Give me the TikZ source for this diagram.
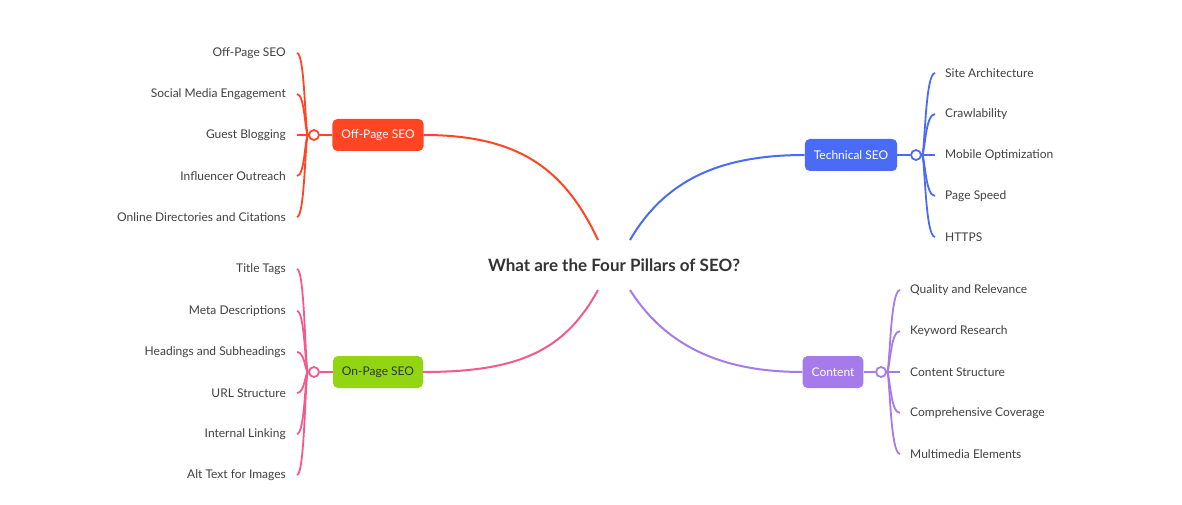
\documentclass[tikz,border=0pt]{standalone}
\usepackage{fontspec}
\setmainfont{Lato}
\definecolor{offc}{HTML}{FF4522}
\definecolor{techc}{HTML}{4A6BF5}
\definecolor{onc}{HTML}{F25A8E}
\definecolor{onbox}{HTML}{92D613}
\definecolor{conc}{HTML}{A57BEB}
\begin{document}
\begin{tikzpicture}[x=1pt,y=-1pt,
    topic/.style={rounded corners=5pt,minimum height=32pt,inner xsep=9pt,text=white,font=\fontsize{12}{14}\selectfont},
    knob/.style={circle,draw,fill=white,line width=1.8pt,minimum size=10pt,inner sep=0pt},
    leafL/.style={anchor=east,inner xsep=11pt,inner ysep=0pt,text=black!75,font=\fontsize{12}{14}\selectfont},
    leafR/.style={anchor=west,inner xsep=10pt,inner ysep=0pt,text=black!75,font=\fontsize{12}{14}\selectfont}]
    \useasboundingbox (0,0) rectangle (1182,505);
    % Centre
    \node (title) at (614,265) {\fontsize{17}{20}\selectfont\bfseries\color{black!80}What are the Four Pillars of SEO?};
    \coordinate (tl) at (598,240);
    \coordinate (tr) at (630,240);
    \coordinate (bl) at (598,290);
    \coordinate (br) at (630,290);
    % Topics
    \node (off) at (378,135) [topic,fill=offc] {Off-Page SEO};
    \node (tech) at (851,155) [topic,fill=techc] {Technical SEO};
    \node (on) at (378,372) [topic,fill=onbox,text=black!80] {On-Page SEO};
    \node (con) at (833,372) [topic,fill=conc] {Content};
    \node (offk) at (314,135) [knob,draw=offc] {};
    \node (techk) at (916,155) [knob,draw=techc] {};
    \node (onk) at (314,372) [knob,draw=onc] {};
    \node (conk) at (881,372) [knob,draw=conc] {};
    % Main branches
    \draw[offc,line width=2pt] (tl) .. controls (565,170) and (520,135) .. (off.east);
    \draw[techc,line width=2pt] (tr) .. controls (665,180) and (720,155) .. (tech.west);
    \draw[onc,line width=2pt] (bl) .. controls (565,350) and (520,372) .. (on.east);
    \draw[conc,line width=2pt] (br) .. controls (665,345) and (720,372) .. (con.west);
    \draw[offc,line width=2pt] (offk) -- (off);
    \draw[techc,line width=2pt] (tech) -- (techk);
    \draw[onc,line width=2pt] (onk) -- (on);
    \draw[conc,line width=2pt] (con) -- (conk);
    % Leaves
    \foreach \i/\y/\t in {1/53/Off-Page SEO,2/94/Social Media Engagement,3/135/Guest Blogging,4/176/Influencer Outreach,5/217/Online Directories and Citations}{
        \node (off\i) at (297,\y) [leafL] {\t};
        \draw[offc,line width=1.8pt] (offk) .. controls (305,135) and (305,\y) .. (off\i.east);
    }
    \foreach \i/\y/\t in {1/73/Site Architecture,2/114/Crawlability,3/155/Mobile Optimization,4/196/Page Speed,5/237/HTTPS}{
        \node (tech\i) at (935,\y) [leafR] {\t};
        \draw[techc,line width=1.8pt] (techk) .. controls (925,155) and (925,\y) .. (tech\i.west);
    }
    \foreach \i/\y/\t in {1/269/Title Tags,2/311/Meta Descriptions,3/352/Headings and Subheadings,4/393/URL Structure,5/434/Internal Linking,6/475/Alt Text for Images}{
        \node (on\i) at (297,\y) [leafL] {\t};
        \draw[onc,line width=1.8pt] (onk) .. controls (305,372) and (305,\y) .. (on\i.east);
    }
    \foreach \i/\y/\t in {1/290/Quality and Relevance,2/331/Keyword Research,3/372/Content Structure,4/413/Comprehensive Coverage,5/454/Multimedia Elements}{
        \node (con\i) at (900,\y) [leafR] {\t};
        \draw[conc,line width=1.8pt] (conk) .. controls (890,372) and (890,\y) .. (con\i.west);
    }
\end{tikzpicture}
\end{document}
